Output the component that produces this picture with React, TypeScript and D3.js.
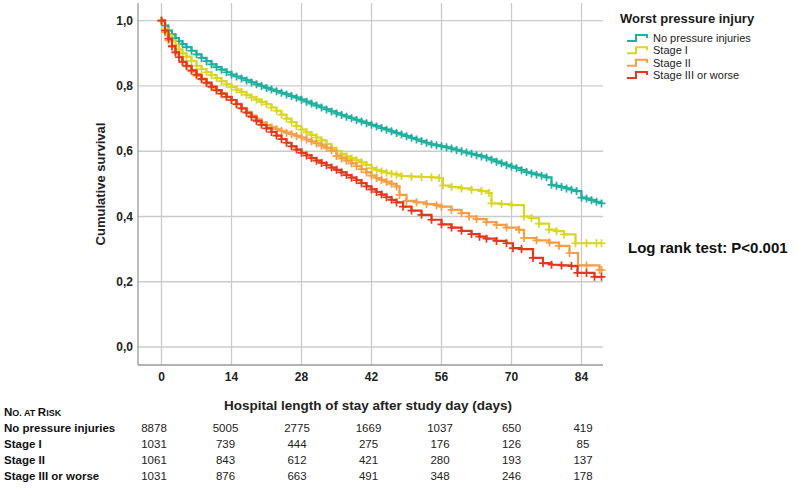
import React from "react";
import * as d3 from "d3";

const seriesNames = ["No pressure injuries", "Stage I", "Stage II", "Stage III or worse"];
const seriesColors = ["#1fb0a0", "#d9d624", "#f59e45", "#e2391c"];

const noPressure: [number, number][] = [
  [0, 1], [0.7, 0.985], [1.4, 0.97], [2.1, 0.958], [2.8, 0.947], [3.5, 0.937], [4.2, 0.928], [5, 0.919],
  [6, 0.908], [7, 0.897], [8, 0.886], [9, 0.876], [10, 0.866], [11, 0.858], [12, 0.85], [13, 0.842],
  [14, 0.835], [15, 0.829], [16, 0.823], [17, 0.817], [18, 0.811], [19, 0.805], [20, 0.8], [21, 0.794],
  [22, 0.789], [23, 0.784], [24, 0.779], [25, 0.774], [26, 0.769], [27, 0.764], [28, 0.758], [29, 0.752],
  [30, 0.746], [31, 0.74], [32, 0.734], [33, 0.728], [34, 0.722], [35, 0.716], [36, 0.711], [37, 0.706],
  [38, 0.701], [39, 0.696], [40, 0.691], [41, 0.686], [42, 0.681], [43, 0.676], [44, 0.671], [45, 0.666],
  [46, 0.661], [47, 0.656], [48, 0.651], [49, 0.646], [50, 0.641], [51, 0.636], [52, 0.631], [53, 0.626],
  [54, 0.621], [55, 0.618], [56, 0.615], [57, 0.612], [58, 0.608], [59, 0.604], [60, 0.6], [61, 0.596],
  [62, 0.592], [63, 0.588], [64, 0.584], [65, 0.58], [66, 0.574], [67, 0.568], [68, 0.563], [69, 0.558],
  [70, 0.553], [71, 0.548], [72, 0.542], [73, 0.536], [74, 0.532], [75, 0.528], [76, 0.525], [77, 0.52],
  [78, 0.497], [79, 0.494], [80, 0.49], [81, 0.486], [82, 0.482], [83, 0.478], [84, 0.458], [85, 0.455],
  [86, 0.45], [87, 0.445], [88, 0.44],
];

const stageI: [number, number][] = [
  [0, 1], [0.7, 0.975], [1.4, 0.955], [2.1, 0.94], [2.8, 0.925], [3.5, 0.912], [4.2, 0.9], [5, 0.89],
  [6, 0.877], [7, 0.862], [8, 0.852], [9, 0.842], [10, 0.833], [11, 0.824], [12, 0.815], [13, 0.806],
  [14, 0.797], [15, 0.789], [16, 0.781], [17, 0.773], [18, 0.765], [19, 0.758], [20, 0.751], [21, 0.744],
  [22, 0.734], [23, 0.724], [24, 0.712], [25, 0.7], [26, 0.689], [27, 0.677], [28, 0.666], [29, 0.658],
  [30, 0.65], [31, 0.642], [32, 0.633], [33, 0.622], [34, 0.61], [35, 0.6], [36, 0.592], [37, 0.584],
  [38, 0.578], [39, 0.572], [40, 0.566], [41, 0.558], [42, 0.548], [43, 0.543], [44, 0.538], [45, 0.534],
  [46, 0.531], [47, 0.528], [48, 0.524], [50, 0.522], [52, 0.521], [54, 0.52], [55.5, 0.518], [56.3, 0.495],
  [58, 0.49], [60, 0.486], [62, 0.482], [64, 0.478], [65.5, 0.472], [66, 0.44], [68, 0.438], [70, 0.435],
  [72.5, 0.4], [74, 0.395], [75.5, 0.378], [77.5, 0.36], [79, 0.355], [80.5, 0.345], [82.8, 0.318],
  [85, 0.318], [87, 0.318], [88, 0.318],
];

const stageII: [number, number][] = [
  [0, 1], [0.7, 0.965], [1.4, 0.94], [2.1, 0.92], [2.8, 0.903], [3.5, 0.888], [4.2, 0.874], [5, 0.86],
  [6, 0.845], [7, 0.832], [8, 0.82], [9, 0.808], [10, 0.796], [11, 0.786], [12, 0.776], [13, 0.766],
  [14, 0.757], [15, 0.745], [16, 0.733], [17, 0.721], [18, 0.709], [19, 0.698], [20, 0.688], [21, 0.68],
  [22, 0.673], [23, 0.667], [24, 0.662], [25, 0.657], [26, 0.652], [27, 0.647], [28, 0.642], [29, 0.636],
  [30, 0.63], [31, 0.624], [32, 0.617], [33, 0.61], [34, 0.602], [35, 0.585], [36, 0.578], [37, 0.571],
  [38, 0.563], [39, 0.554], [40, 0.545], [41, 0.535], [42, 0.525], [43, 0.518], [44, 0.512], [45, 0.506],
  [46, 0.5], [47, 0.492], [47.6, 0.466], [49, 0.448], [51, 0.443], [53, 0.438], [55, 0.434], [56, 0.43],
  [58, 0.42], [60, 0.41], [61.5, 0.4], [63, 0.392], [65, 0.383], [67, 0.374], [69, 0.366], [71.5, 0.359],
  [72.5, 0.334], [75, 0.327], [77.6, 0.32], [79.5, 0.31], [81.6, 0.288], [83.3, 0.25], [85, 0.25],
  [87.6, 0.236], [88, 0.236],
];

const stageIII: [number, number][] = [
  [0, 1], [0.7, 0.97], [1.4, 0.945], [2.1, 0.922], [2.8, 0.903], [3.5, 0.888], [4.2, 0.874], [5, 0.862],
  [6, 0.848], [7, 0.835], [8, 0.822], [9, 0.81], [10, 0.798], [11, 0.787], [12, 0.777], [13, 0.767],
  [14, 0.757], [15, 0.744], [16, 0.731], [17, 0.718], [18, 0.705], [19, 0.693], [20, 0.681], [21, 0.67],
  [22, 0.659], [23, 0.648], [24, 0.637], [25, 0.626], [26, 0.615], [27, 0.605], [28, 0.595], [29, 0.587],
  [30, 0.579], [31, 0.571], [32, 0.564], [33, 0.557], [34, 0.55], [35, 0.543], [36, 0.535], [37, 0.527],
  [38, 0.519], [39, 0.511], [40, 0.502], [41, 0.492], [42, 0.483], [43, 0.475], [44, 0.467], [45, 0.459],
  [46, 0.451], [47, 0.443], [48.3, 0.43], [50, 0.418], [52, 0.405], [54, 0.39], [56, 0.376], [58, 0.366],
  [60, 0.356], [62, 0.346], [63.6, 0.338], [65, 0.332], [67, 0.325], [69, 0.318], [70.3, 0.303], [72, 0.3],
  [74.3, 0.273], [76.3, 0.257], [78, 0.252], [80, 0.25], [82, 0.248], [83.2, 0.227], [85, 0.227],
  [86.6, 0.215], [88, 0.215],
];

const seriesData = [noPressure, stageI, stageII, stageIII];

const xTicks = [0, 14, 28, 42, 56, 70, 84];
const yTicks = [0, 0.2, 0.4, 0.6, 0.8, 1.0];

const riskRows = ["No pressure injuries", "Stage I", "Stage II", "Stage III or worse"];
const riskNoPressure = [8878, 5005, 2775, 1669, 1037, 650, 419];
const riskStageI = [1031, 739, 444, 275, 176, 126, 85];
const riskStageII = [1061, 843, 612, 421, 280, 193, 137];
const riskStageIII = [1031, 876, 663, 491, 348, 246, 178];
const riskValues = [riskNoPressure, riskStageI, riskStageII, riskStageIII];

const FONT = "Arial, 'Liberation Sans', sans-serif";

export default function App() {
  const W = 797, H = 488;
  const left = 138, right = 603, top = 3, bottom = 365;
  const x = d3.scaleLinear().domain([-4.7, 88.3]).range([left, right]);
  const y = d3.scaleLinear().domain([-0.0552, 1.0543]).range([bottom, top]);
  const line = d3
    .line<[number, number]>()
    .x((d) => x(d[0]))
    .y((d) => y(d[1]))
    .curve(d3.curveStepAfter);
  const riskX = d3.scaleLinear().domain([0, 6]).range([154, 583]);
  const riskY = d3.scaleLinear().domain([0, 3]).range([432, 480]);
  const legendY = d3.scaleLinear().domain([0, 3]).range([38, 75]);

  return (
    <svg width={W} height={H} style={{ position: "absolute", left: 0, top: 0, background: "#fff" }} fontFamily={FONT}>
      <rect x={0} y={0} width={W} height={H} fill="#fff" />
      {/* grid */}
      {yTicks.map((t) => (
        <line key={"gy" + t} x1={left} x2={right} y1={y(t)} y2={y(t)} stroke="#cbcbcb" strokeWidth={1.3} />
      ))}
      {xTicks.map((t) => (
        <line key={"gx" + t} x1={x(t)} x2={x(t)} y1={top} y2={bottom} stroke="#cbcbcb" strokeWidth={1.3} />
      ))}
      <line x1={left} x2={left} y1={top} y2={bottom} stroke="#9a9a9a" strokeWidth={1.3} />
      <line x1={left} x2={right} y1={bottom} y2={bottom} stroke="#9a9a9a" strokeWidth={1.3} />

      {/* y tick labels */}
      {yTicks.map((t) => (
        <text key={"yl" + t} x={133} y={y(t)} dy="0.35em" textAnchor="end" fontSize={12} fontWeight="bold" fill="#222">
          {t.toFixed(1).replace(".", ",")}
        </text>
      ))}
      {xTicks.map((t) => (
        <text key={"xl" + t} x={x(t)} y={377} dy="0.35em" textAnchor="middle" fontSize={12} fontWeight="bold" fill="#222">
          {t}
        </text>
      ))}
      <text
        transform={`translate(${100},${(top + bottom) / 2}) rotate(-90)`}
        textAnchor="middle"
        dy="0.35em"
        fontSize={13}
        fontWeight="bold"
        fill="#222"
      >
        Cumulative survival
      </text>
      <text x={368} y={405} dy="0.35em" textAnchor="middle" fontSize={13.5} fontWeight="bold" fill="#222">
        Hospital length of stay after study day (days)
      </text>

      {/* curves */}
      {seriesData.map((data, i) => (
        <g key={"s" + i}>
          <path d={line(data) || ""} fill="none" stroke={seriesColors[i]} strokeWidth={2.2} />
          {data.map((d, j) => (
            <path
              key={j}
              d={`M${x(d[0]) - 4},${y(d[1])}h8M${x(d[0])},${y(d[1]) - 4}v8`}
              stroke={seriesColors[i]}
              strokeWidth={1.7}
              fill="none"
            />
          ))}
        </g>
      ))}

      {/* legend */}
      <text x={620} y={23} fontSize={13} fontWeight="bold" fill="#1a1a1a">
        Worst pressure injury
      </text>
      {seriesNames.map((n, i) => {
        const ly = legendY(i);
        return (
          <g key={"lg" + i}>
            <path
              d={`M627,${ly + 3}H636V${ly - 3}H647V${ly}`}
              fill="none"
              stroke={seriesColors[i]}
              strokeWidth={2}
            />
            <text x={653} y={ly} dy="0.35em" fontSize={11} fill="#222">
              {n}
            </text>
          </g>
        );
      })}

      <text x={628} y={248} dy="0.35em" fontSize={15} fontWeight="bold" fill="#111">
        Log rank test: P&lt;0.001
      </text>

      {/* risk table */}
      <text x={4} y={416} fontWeight="bold" fill="#111">
        <tspan fontSize={11.5}>N</tspan>
        <tspan fontSize={9}>O. AT </tspan>
        <tspan fontSize={11.5}>R</tspan>
        <tspan fontSize={9}>ISK</tspan>
      </text>
      {riskRows.map((r, i) => (
        <g key={"rr" + i}>
          <text x={4} y={riskY(i)} fontSize={11.5} fontWeight="bold" fill="#111">
            {r}
          </text>
          {riskValues[i].map((v, j) => (
            <text key={j} x={riskX(j)} y={riskY(i)} fontSize={11.5} textAnchor="middle" fill="#222">
              {v}
            </text>
          ))}
        </g>
      ))}
    </svg>
  );
}
